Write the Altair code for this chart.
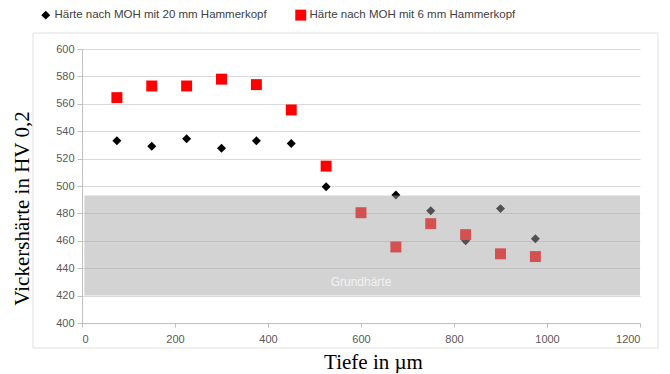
import altair as alt
import pandas as pd

# --- data ---
depth = [75, 150, 225, 300, 375, 450, 525, 600, 675, 750, 825, 900, 975]
hv_20mm = [533, 529, 534.5, 527.5, 533, 531, 499.5, None, 493.5, 482, 460, 483.5, 461.5]
hv_6mm = [564.5, 573, 573, 578, 574, 555.5, 514.5, 480.5, 455.5, 472.5, 464.5, 450.5, 448.5]
series_names = ["Härte nach MOH mit 20 mm Hammerkopf", "Härte nach MOH mit 6 mm Hammerkopf"]
series_colors = ["#000000", "#ff0000"]
series_shapes = ["diamond", "square"]
series_sizes = [80, 120]

band_depth = [5, 1200]
band_hv = [420, 493]
band_label = ["Grundhärte"]
band_label_pos = [600, 430]

x_ticks = [0, 200, 400, 600, 800, 1000, 1200]
y_ticks = [400, 420, 440, 460, 480, 500, 520, 540, 560, 580, 600]

rows = []
for name, vals in zip(series_names, [hv_20mm, hv_6mm]):
    for d, v in zip(depth, vals):
        if v is not None:
            rows.append({"Tiefe": d, "HV": v, "Serie": name})
df = pd.DataFrame(rows)

band_df = pd.DataFrame({"x1": [band_depth[0]], "x2": [band_depth[1]],
                        "y1": [band_hv[0]], "y2": [band_hv[1]]})
label_df = pd.DataFrame({"x": [band_label_pos[0]], "y": [band_label_pos[1]], "t": band_label})

xscale = alt.Scale(domain=[0, 1200], nice=False)
yscale = alt.Scale(domain=[400, 600], nice=False, zero=False)

points = alt.Chart(df).mark_point(filled=True, opacity=1).encode(
    x=alt.X("Tiefe:Q", scale=xscale,
            axis=alt.Axis(values=x_ticks, grid=False, title="Tiefe in µm", format="d",
                          labelOverlap=False,
                          titleX=291, titleY=39, titleBaseline="middle",
                          titleAlign="center", tickSize=4, labelPadding=6)),
    y=alt.Y("HV:Q", scale=yscale,
            axis=alt.Axis(values=y_ticks, grid=True, title="Vickershärte in HV 0,2",
                          labelOverlap=False, tickCount=11, format="d",
                          titleX=-60, titleY=159, titleAngle=-90,
                          titleBaseline="middle", titleAlign="center",
                          tickSize=5, labelPadding=3)),
    color=alt.Color("Serie:N", scale=alt.Scale(domain=series_names, range=series_colors),
                    legend=alt.Legend(title=None)),
    shape=alt.Shape("Serie:N", scale=alt.Scale(domain=series_names, range=series_shapes),
                    legend=alt.Legend(title=None)),
    size=alt.Size("Serie:N", scale=alt.Scale(domain=series_names, range=series_sizes),
                  legend=None),
    order=alt.Order("Serie:N", sort="ascending"),
)

band = alt.Chart(band_df).mark_rect(color="#a5a5a5", opacity=0.49).encode(
    x=alt.X("x1:Q", scale=xscale),
    x2="x2:Q",
    y=alt.Y("y1:Q", scale=yscale),
    y2="y2:Q",
)

label = alt.Chart(label_df).mark_text(
    color="#f2f2f2", font="Liberation Sans", fontSize=12, align="center", baseline="middle"
).encode(
    x=alt.X("x:Q", scale=xscale),
    y=alt.Y("y:Q", scale=yscale),
    text="t:N",
)

frame = alt.Chart(pd.DataFrame({"a": [0]})).mark_rect(
    fill=None, stroke="#e0e0e0", strokeWidth=1
).encode(
    x=alt.value(-49), x2=alt.value(576), y=alt.value(-16), y2=alt.value(299)
)

chart = alt.layer(frame, points, band, label).properties(
    width=558, height=274,
    autosize=alt.AutoSizeParams(type="none"),
    padding={"left": 74, "top": 41, "right": 20, "bottom": 50},
).configure_view(stroke=None).configure_axis(
    gridColor="#d9d9d9", domainColor="#bfbfbf", tickColor="#bfbfbf",
    labelColor="#595959", labelFont="Liberation Sans", labelFontSize=11,
    titleFont="Liberation Serif", titleFontSize=21, titleFontWeight="normal",
    titleColor="#000000",
).configure_legend(
    orient="none", legendX=-42, legendY=-40, direction="horizontal",
    labelFont="Liberation Sans", labelFontSize=11.5, labelColor="#404040",
    symbolSize=60, columnPadding=28, labelLimit=400, labelOffset=3,
    symbolStrokeWidth=0,
)

chart.save("out.html", embed_options={"renderer": "svg", "actions": False})
